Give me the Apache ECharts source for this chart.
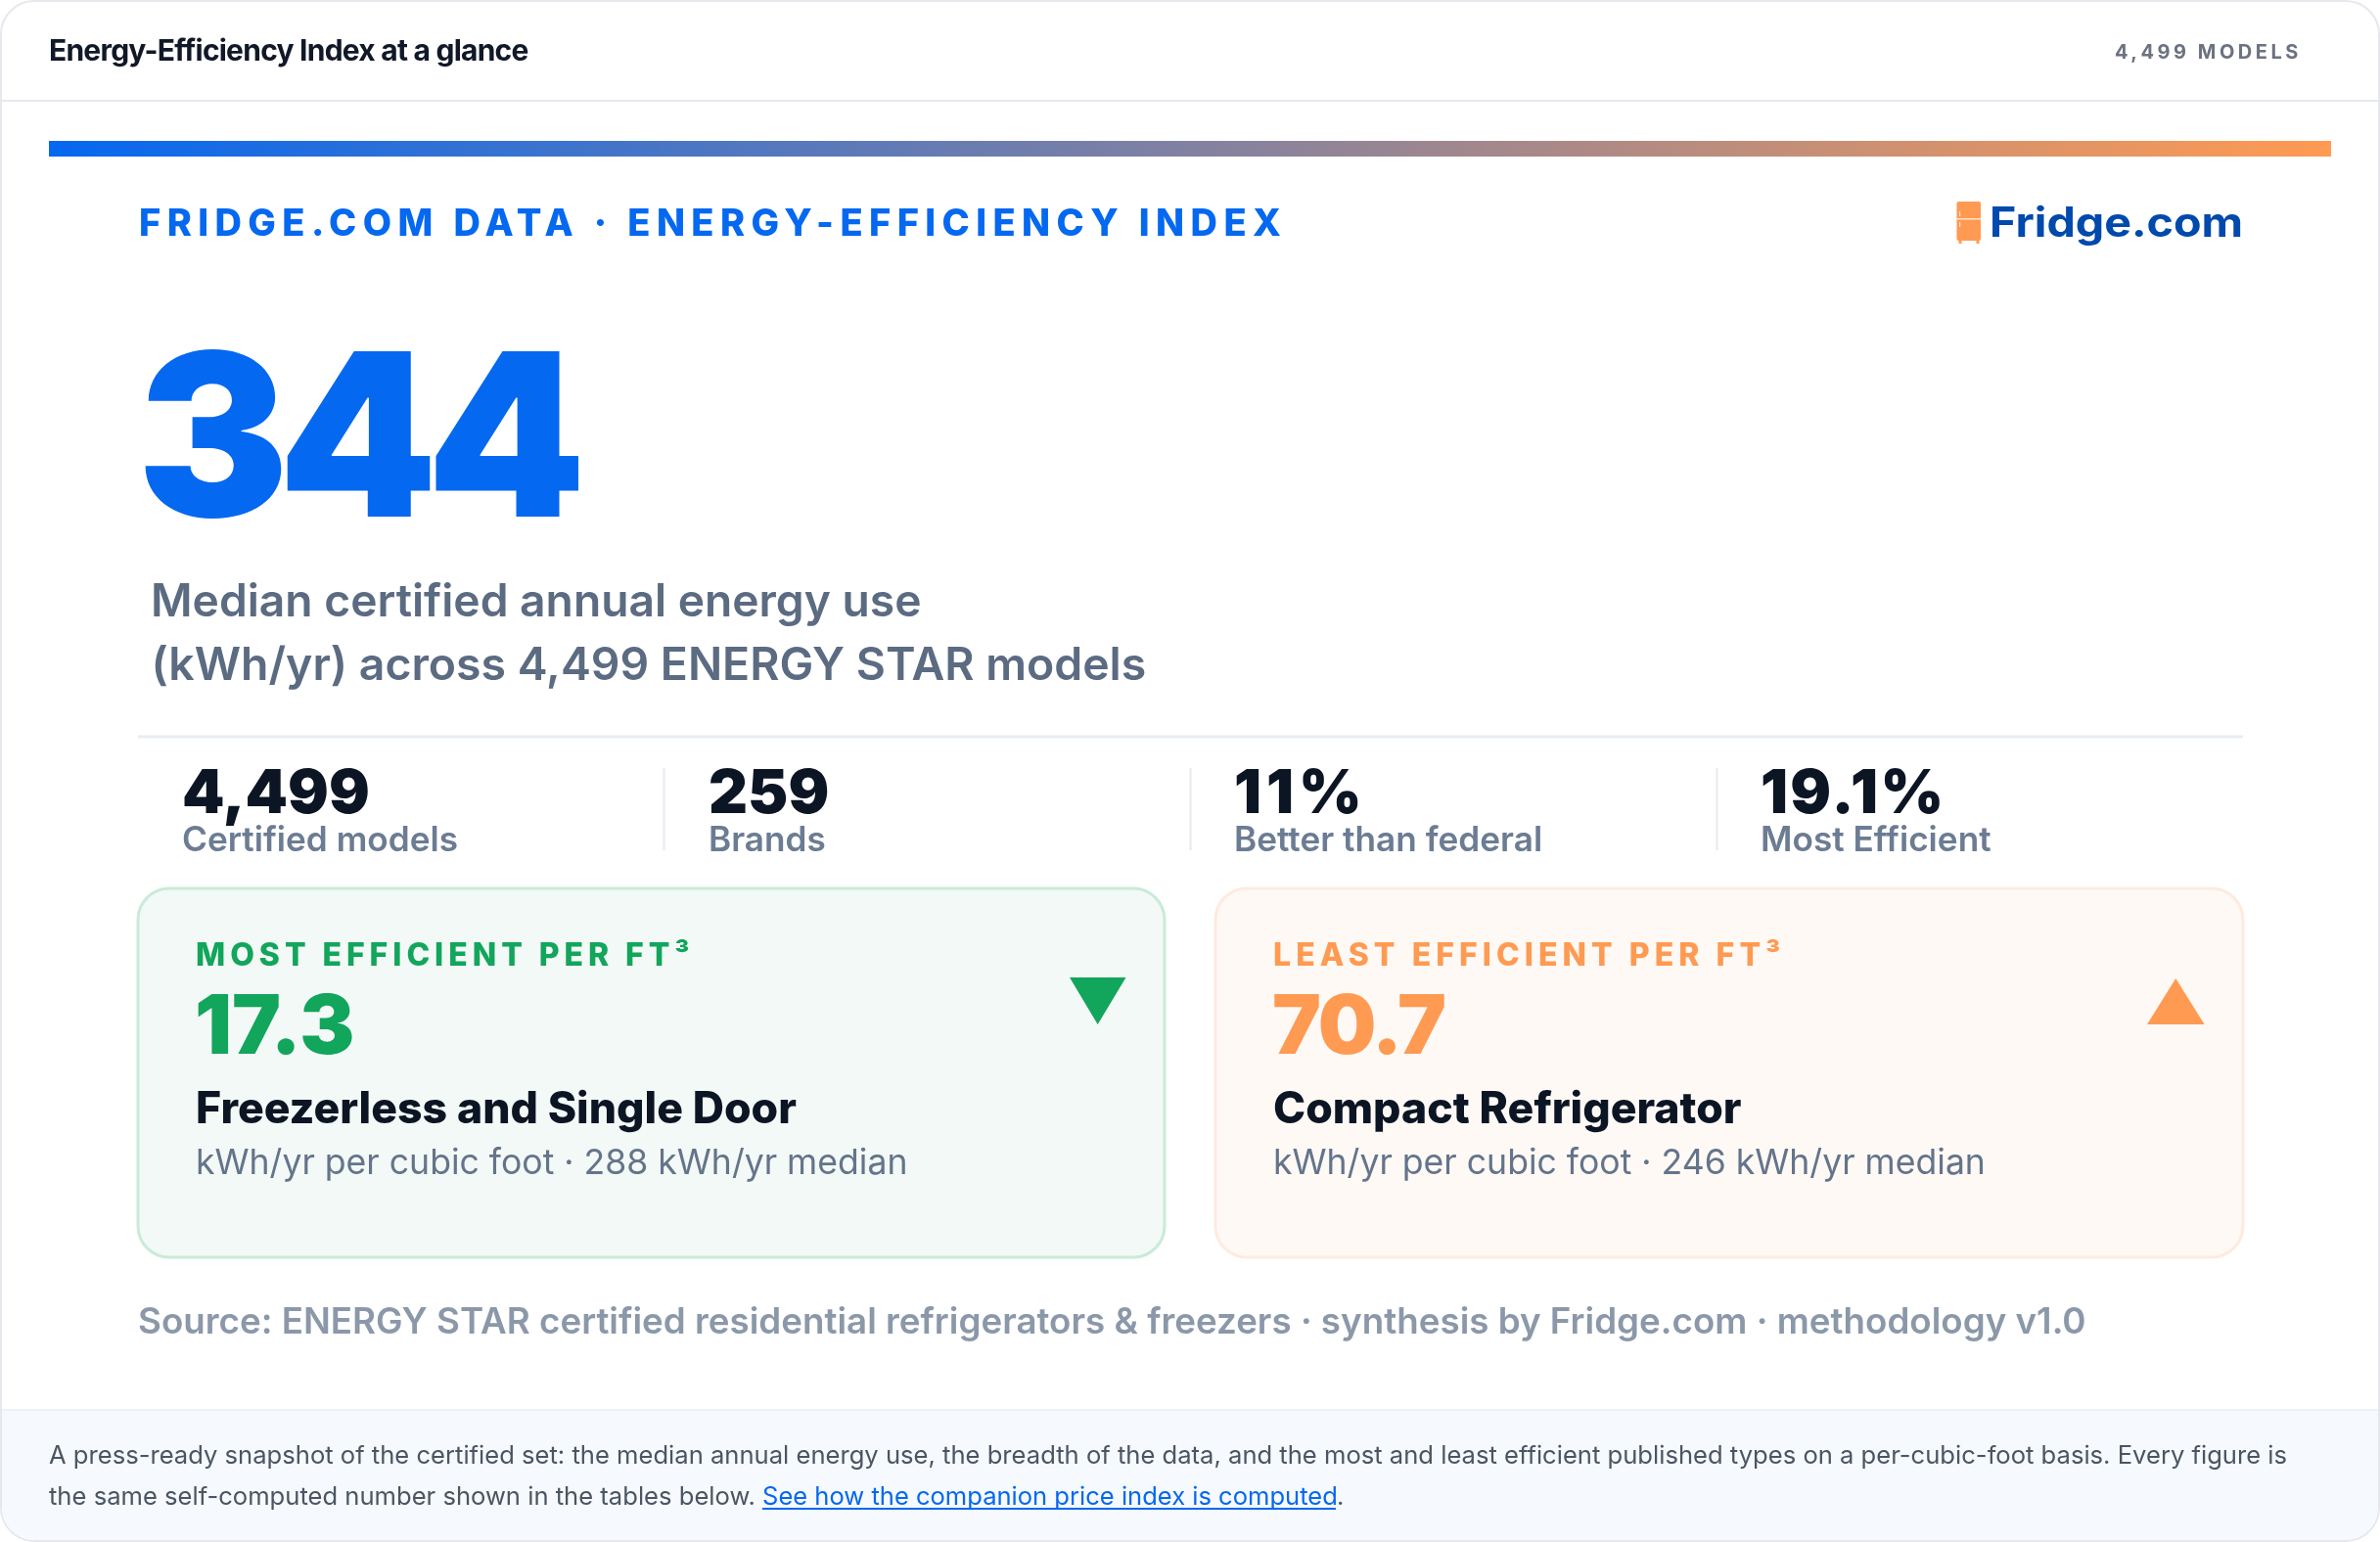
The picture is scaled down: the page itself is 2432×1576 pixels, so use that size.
<!DOCTYPE html>
<html><head><meta charset="utf-8">
<title>Energy-Efficiency Index at a glance</title>
<style>html,body{margin:0;padding:0;background:#fff}#c{width:2432px;height:1576px}</style>
<script src="https://cdn.jsdelivr.net/npm/echarts@6/dist/echarts.min.js"></script>
</head><body><div id="c"></div>
<script>
// ---- data ----
const cardTitle = 'Energy-Efficiency Index at a glance';
const modelBadge = '4,499 MODELS';
const eyebrow = 'FRIDGE.COM DATA · ENERGY-EFFICIENCY INDEX';
const heroValue = '344';
const heroLines = ['Median certified annual energy use', '(kWh/yr) across 4,499 ENERGY STAR models'];
const statValues = ['4,499', '259', '11%', '19.1%'];
const statLabels = ['Certified models', 'Brands', 'Better than federal', 'Most Efficient'];
const panelEyebrows = ['MOST EFFICIENT PER FT³', 'LEAST EFFICIENT PER FT³'];
const panelValues = ['17.3', '70.7'];
const panelNames = ['Freezerless and Single Door', 'Compact Refrigerator'];
const panelNotes = ['kWh/yr per cubic foot · 288 kWh/yr median', 'kWh/yr per cubic foot · 246 kWh/yr median'];
const sourceLine = 'Source: ENERGY STAR certified residential refrigerators & freezers · synthesis by Fridge.com · methodology v1.0';
const footLine1 = 'A press-ready snapshot of the certified set: the median annual energy use, the breadth of the data, and the most and least efficient published types on a per-cubic-foot basis. Every figure is';
const footLine2 = 'the same self-computed number shown in the tables below. ';
const footLink = 'See how the companion price index is computed';
const logoText = 'Fridge.com';

// ---- tracking: the canvas text API carries letter spacing per string ----
const tracking = new Map([
  [cardTitle, '-0.77px'], [modelBadge, '3.5px'], [eyebrow, '6.4px'], [heroValue, '-11px'],
  [panelEyebrows[0], '4.95px'], [panelEyebrows[1], '5.05px'],
  [panelValues[0], '0px'], [panelValues[1], '-2px'],
  [statValues[2], '5px'], [statValues[3], '2.3px'],
]);
const origFill = CanvasRenderingContext2D.prototype.fillText;
CanvasRenderingContext2D.prototype.fillText = function (t, x, y, m) {
  const ls = tracking.get(t);
  if (ls) this.letterSpacing = ls;
  const r = m === undefined ? origFill.call(this, t, x, y) : origFill.call(this, t, x, y, m);
  if (ls) this.letterSpacing = '0px';
  return r;
};

// ---- styles and layout ----
const INK = '#0c1524', BLUE = '#0568f0', ORANGE = '#ff9a52', GREEN = '#12a55c';
const F = 'Inter, "Noto Sans", sans-serif';
const txt = (text, x, y, size, weight, fill, extra) => ({
  type: 'text', x, y, silent: true,
  style: Object.assign({ text, fill, font: `${weight} ${size}px ${F}`, textAlign: 'left', textVerticalAlign: 'middle', verticalAlign: 'middle' }, extra || {})
});
const rect = (x, y, w, h, fill, r, stroke, lw) => ({
  type: 'rect', silent: true, shape: { x, y, width: w, height: h, r: r || 0 },
  style: { fill, stroke: stroke || null, lineWidth: lw || 0 }
});

const els = [];
// shell
els.push(rect(1, 1, 2430, 1574, '#ffffff', 34, '#e6e8ee', 2));
els.push(rect(2, 1441, 2428, 133, '#f6f9fd', [0, 0, 33, 33]));
els.push(rect(2, 1440, 2428, 2, '#eef1f5'));
els.push(rect(2, 102, 2428, 2, '#e7e8ee'));
els.push(txt(cardTitle, 50, 52.5, 30, 700, '#111827'));
els.push(txt(modelBadge, 2161, 54, 20, 700, '#6b7280'));
// gradient rule
els.push({ type: 'rect', silent: true, shape: { x: 50, y: 144, width: 2332, height: 16 },
  style: { fill: new echarts.graphic.LinearGradient(0, 0, 1, 0, [{ offset: 0, color: BLUE }, { offset: 1, color: ORANGE }]) } });
// eyebrow & logo
els.push(txt(eyebrow, 142, 230, 38, 800, BLUE));
els.push(rect(1999.5, 206, 24.5, 40, ORANGE, 2));
els.push(rect(2001.5, 245, 3, 4, ORANGE));
els.push(rect(2019.5, 245, 3, 4, ORANGE));
els.push(rect(1999.5, 223, 24.5, 1.5, '#ffe3cc'));
els.push(rect(2002, 216, 1.2, 5, '#ffe3cc'));
els.push(rect(2002, 227, 1.2, 5, '#ffe3cc'));
els.push(Object.assign(txt(logoText, 2033, 229, 42, 700, '#0049ad'), { scaleX: 1.11 }));
// hero
els.push(txt(heroValue, 140, 458, 232, 900, BLUE));
els.push(txt(heroLines[0], 154, 616, 46.2, 600, '#5b6b82'));
els.push(txt(heroLines[1], 154.5, 681, 46.4, 600, '#5b6b82'));
// stats
els.push(rect(141, 751.5, 2151, 3, '#e8edf3'));
const statX = [186, 724, 1261, 1799], sepX = [677.5, 1215.5, 1753.5];
sepX.forEach(x => els.push(rect(x, 785, 2, 84, '#e5eaf0')));
statValues.forEach((v, i) => {
  els.push(txt(v, statX[i], 812, 62, 900, INK));
  els.push(txt(statLabels[i], statX[i], 859.5, 35.2, 600, '#6b7c93'));
});
// panels
const panelX = [141, 1242], panelW = [1049, 1050];
const panelFill = ['#f3f9f6', '#fef9f5'], panelStroke = ['#c9ebd9', '#feebdf'], panelInk = [GREEN, ORANGE];
panelValues.forEach((v, i) => {
  const x = panelX[i], tx = x + 59;
  els.push(rect(x, 908, panelW[i], 377, panelFill[i], 32, panelStroke[i], 3));
  els.push(txt(panelEyebrows[i], tx, 977, 32, 800, panelInk[i]));
  els.push(txt(v, tx - 1, 1052, 84, 900, panelInk[i]));
  els.push(txt(panelNames[i], tx, 1134.5, 44.6, 800, INK));
  els.push(txt(panelNotes[i], tx, 1189, 35.6, 400, '#64748b'));
});
els.push({ type: 'polygon', silent: true, shape: { points: [[1093, 999], [1150.5, 999], [1121.7, 1047]] }, style: { fill: GREEN } });
els.push({ type: 'polygon', silent: true, shape: { points: [[2194, 1047], [2252.6, 1047], [2223.3, 1000]] }, style: { fill: ORANGE } });
// source
els.push(txt(sourceLine, 141, 1351.5, 36.76, 600, '#8b98a9'));
// footer note
els.push(txt(footLine1, 50, 1488, 25.6, 400, '#4b5563'));
els.push(txt(footLine2, 50, 1530, 25.6, 400, '#4b5563'));
els.push(txt(footLink, 779, 1530, 25.55, 400, BLUE));
els.push(rect(779, 1541, 586, 2, BLUE));
els.push(txt('.', 1366, 1530, 25.6, 400, '#4b5563'));

const chart = echarts.init(document.getElementById('c'), null, { renderer: 'canvas', width: 2432, height: 1576 });
chart.setOption({ animation: false, backgroundColor: '#ffffff', graphic: { elements: els } });
</script></body></html>
